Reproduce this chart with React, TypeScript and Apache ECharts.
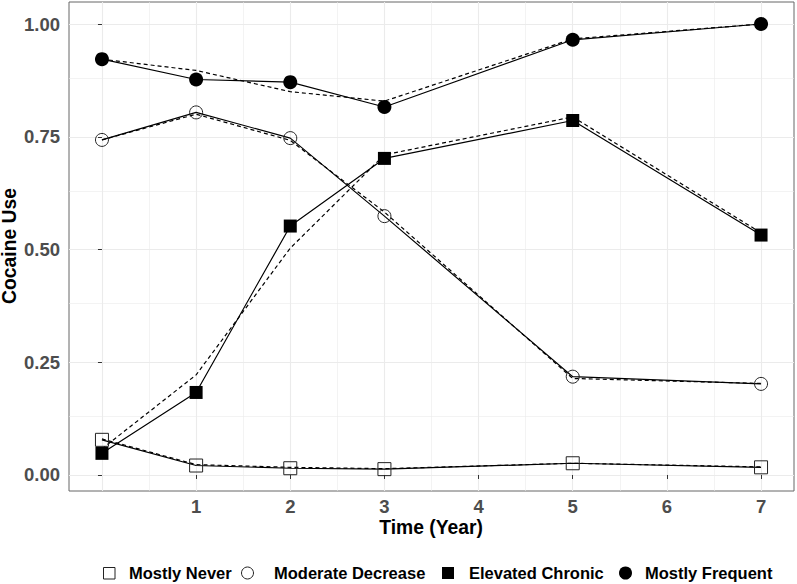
import React, { useEffect, useRef } from "react";
import * as echarts from "echarts";

// ---- data ----
const years = [0, 1, 2, 3, 5, 7];
const xTickValues = [1, 2, 3, 4, 5, 6, 7];
const yTickValues = [0, 0.25, 0.5, 0.75, 1];
const xMajorGrid = [0, 1, 2, 3, 4, 5, 6, 7];
const xMinorGrid = [0.5, 1.5, 2.5, 3.5, 4.5, 5.5, 6.5];
const yMajorGrid = [0, 0.25, 0.5, 0.75, 1];
const yMinorGrid = [0.125, 0.375, 0.625, 0.875];
const groupNames = ["Mostly Never", "Moderate Decrease", "Elevated Chronic", "Mostly Frequent"];

const neverObserved = [0.078, 0.021, 0.015, 0.013, 0.026, 0.017];
const neverEstimated = [0.08, 0.023, 0.017, 0.014, 0.026, 0.018];
const moderateObserved = [0.743, 0.804, 0.747, 0.574, 0.218, 0.202];
const moderateEstimated = [0.743, 0.8, 0.742, 0.583, 0.214, 0.203];
const elevatedObserved = [0.048, 0.183, 0.552, 0.702, 0.786, 0.532];
const elevatedEstimated = [0.058, 0.222, 0.503, 0.71, 0.794, 0.537];
const frequentObserved = [0.922, 0.877, 0.871, 0.816, 0.965, 1.0];
const frequentEstimated = [0.922, 0.897, 0.85, 0.829, 0.967, 1.0];

const FONT = "'Liberation Sans', Arial, sans-serif";

export default function App() {
  const ref = useRef<HTMLDivElement>(null);

  useEffect(() => {
    document.body.style.margin = "0";
    const chart = echarts.init(ref.current!, null, { renderer: "svg" });

    const zip = (vals: number[]) => years.map((y, i) => [y, vals[i]]);

    const groups = [
      { name: groupNames[0], obs: neverObserved, est: neverEstimated, symbol: "rect", filled: false, size: 13 },
      { name: groupNames[1], obs: moderateObserved, est: moderateEstimated, symbol: "circle", filled: false, size: 13 },
      { name: groupNames[2], obs: elevatedObserved, est: elevatedEstimated, symbol: "rect", filled: true, size: 13 },
      { name: groupNames[3], obs: frequentObserved, est: frequentEstimated, symbol: "circle", filled: true, size: 14 },
    ];

    const series: any[] = [];
    const gridLines: any[] = [];
    xMajorGrid.forEach((v) => gridLines.push({ xAxis: v, lineStyle: { color: "#ebebeb", width: 1.1, type: "solid" } }));
    xMinorGrid.forEach((v) => gridLines.push({ xAxis: v, lineStyle: { color: "#ebebeb", width: 0.6, type: "solid" } }));
    yMajorGrid.forEach((v) => gridLines.push({ yAxis: v, lineStyle: { color: "#ebebeb", width: 1.1, type: "solid" } }));
    yMinorGrid.forEach((v) => gridLines.push({ yAxis: v, lineStyle: { color: "#ebebeb", width: 0.6, type: "solid" } }));
    series.push({
      type: "line",
      data: [],
      z: 0,
      silent: true,
      markLine: { z: 0, silent: true, symbol: ["none", "none"], label: { show: false }, data: gridLines, animation: false },
    });

    groups.forEach((g) => {
      series.push({
        type: "line",
        name: g.name + " estimated",
        data: zip(g.est),
        showSymbol: false,
        symbol: "none",
        z: 10,
        lineStyle: { color: "#000", width: 1.2, type: [4, 3] },
      });
    });
    groups.forEach((g) => {
      series.push({
        type: "line",
        name: g.name,
        data: zip(g.obs),
        symbol: g.symbol,
        symbolSize: g.size,
        showSymbol: true,
        z: 11,
        lineStyle: { color: "#000", width: 1.2, type: "solid" },
        itemStyle: g.filled
          ? { color: "#000", borderWidth: 0 }
          : { color: "rgba(0,0,0,0)", borderColor: "#222", borderWidth: 1 },
      });
    });

    const legendY = 573;
    const textStyle = (t: string, x: number) => ({
      type: "text",
      x,
      y: legendY,
      style: { text: t, fill: "#000", font: `bold 16.5px ${FONT}`, verticalAlign: "middle" },
    });

    chart.setOption({
      animation: false,
      backgroundColor: "#fff",
      grid: { left: 69, top: 2, width: 725, height: 489, show: true, borderColor: "#666", borderWidth: 1, backgroundColor: "transparent" },
      xAxis: {
        type: "value",
        min: -0.35,
        max: 7.35,
        splitLine: { show: false },
        axisLine: { show: false },
        axisTick: { show: true, length: 4, lineStyle: { color: "#333" }, customValues: xTickValues },
        axisLabel: {
          customValues: xTickValues,
          color: "#4d4d4d",
          fontWeight: "bold",
          fontSize: 18.5,
          fontFamily: FONT,
          margin: 6,
        },
      },
      yAxis: {
        type: "value",
        min: -0.0355,
        max: 1.0488,
        splitLine: { show: false },
        axisLine: { show: false },
        axisTick: { show: true, length: 4, lineStyle: { color: "#333" }, customValues: yTickValues },
        axisLabel: {
          customValues: yTickValues,
          formatter: (v: number) => v.toFixed(2),
          color: "#4d4d4d",
          fontWeight: "bold",
          fontSize: 18.5,
          fontFamily: FONT,
          margin: 9,
        },
      },
      series,
      graphic: [
        {
          type: "text",
          x: 9,
          y: 246,
          rotation: Math.PI / 2,
          style: { text: "Cocaine Use", fill: "#000", font: `bold 19.3px ${FONT}`, align: "center", verticalAlign: "middle" },
        },
        {
          type: "text",
          x: 431,
          y: 527.5,
          style: { text: "Time (Year)", fill: "#000", font: `bold 19.3px ${FONT}`, align: "center", verticalAlign: "middle" },
        },
        { type: "rect", shape: { x: 103.5, y: 567.5, width: 11.5, height: 11.5 }, style: { fill: "none", stroke: "#222", lineWidth: 1 } },
        textStyle(groupNames[0], 129),
        { type: "circle", shape: { cx: 247.5, cy: legendY, r: 6 }, style: { fill: "none", stroke: "#222", lineWidth: 1 } },
        textStyle(groupNames[1], 274),
        { type: "rect", shape: { x: 442, y: 567, width: 12, height: 12 }, style: { fill: "#000" } },
        textStyle(groupNames[2], 469),
        { type: "circle", shape: { cx: 625.5, cy: legendY, r: 6.5 }, style: { fill: "#000" } },
        textStyle(groupNames[3], 645),
      ],
    });

    return () => chart.dispose();
  }, []);

  return <div ref={ref} style={{ position: "fixed", left: 0, top: 0, width: 797, height: 584 }} />;
}
